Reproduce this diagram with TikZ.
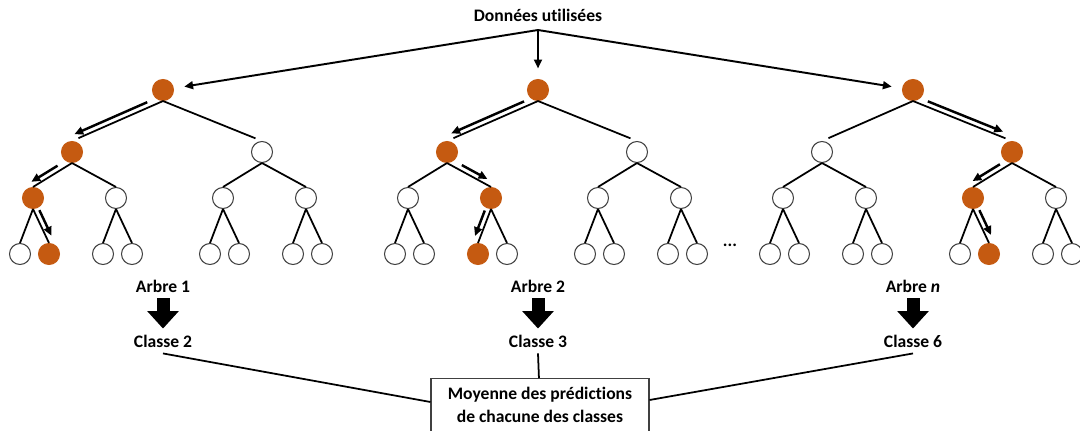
\documentclass[tikz,border=0pt]{standalone}
\usepackage{fontspec}
\setmainfont{Carlito}[Ligatures=NoCommon]
\usetikzlibrary{arrows.meta,calc}

\definecolor{pathorange}{RGB}{197,90,17}
\definecolor{rimgray}{RGB}{64,64,64}

\tikzset{
  leaf/.style={circle, draw=rimgray, line width=0.6pt, fill=white, minimum size=0.42cm, inner sep=0pt},
  on/.style={fill=pathorange, draw=pathorange},
  1r/.style=on, 1r0/.style=on, 1r00/.style=on, 1r001/.style=on,
  2r/.style=on, 2r0/.style=on, 2r01/.style=on, 2r010/.style=on,
  3r/.style=on, 3r1/.style=on, 3r10/.style=on, 3r101/.style=on,
  branch/.style={line width=1pt},
  feed/.style={line width=1.1pt, -{Triangle[length=5pt,width=4.5pt]}, shorten >=6pt},
  flow/.style={line width=1.4pt, -{Triangle[length=5pt,width=4.5pt]}},
  block/.style={line width=7.4pt, -{Triangle[length=10pt,width=17.5pt]}},
  meanbox/.style={draw=rimgray, line width=0.6pt, align=center, minimum width=4.36cm, inner ysep=5pt}
}

\begin{document}
\begin{tikzpicture}[x=0.02cm, y=-0.02cm, font=\bfseries\fontsize{10}{13}\selectfont]
\useasboundingbox (0,0) rectangle (1080,430);

\newcommand{\trees}{1/163/1/2, 2/538/2/3, 3/913/{\textit{n}}/6}
\newcommand{\spots}{r/0/90, r0/-91/152, r1/99/152, r00/-130/198, r01/-47/198, r10/60/198, r11/143/198,
  r000/-143/254, r001/-114/254, r010/-60/254, r011/-31/254, r100/47/254, r101/76/254, r110/130/254, r111/159/254}
\newcommand{\links}{r0/r00, r0/r01, r1/r10, r1/r11, r00/r000, r00/r001, r01/r010, r01/r011,
  r10/r100, r10/r101, r11/r110, r11/r111}
\newcommand{\flows}{1/r/r0/-90/0.15/0.95, 1/r0/r00/-90/0.3/0.97, 1/r00/r001/90/0.1/0.85,
  2/r/r0/-90/0.13/0.93, 2/r0/r01/90/0.28/0.86, 2/r01/r010/-90/0.1/0.85,
  3/r/r1/90/0.13/0.89, 3/r1/r10/-90/0.24/0.94, 3/r10/r101/90/0.1/0.83}

\node (data) at (538,15) {Données utilisées};
\coordinate (split) at (538,30);

\foreach \t / \cx / \n / \c in \trees {
  \foreach \s / \dx / \y in \spots
    \node[leaf, \t\s/.try] (\t\s) at (\cx+\dx,\y) {};
  \draw[branch, shorten >=4pt] (\t r.south) -- (\t r0.north);
  \draw[branch, shorten >=4pt] (\t r.south) -- (\t r1.north);
  \foreach \p / \q in \links
    \draw[branch] (\t\p.south) -- (\t\q.north);
  \draw[feed] (split) -- (\t r);
  \node (arbre\t) at (\cx,286) {Arbre \n};
  \node (classe\t) at (\cx,341) {Classe \c};
  \draw[block] (arbre\t) -- (classe\t);
}

\foreach \t / \a / \b / \side / \from / \to in \flows
  \draw[flow] ($(\t\a.south)!\from!(\t\b.north)!3pt!\side:(\t\b.north)$)
    -- ($(\t\a.south)!\to!(\t\b.north)!3pt!\side:(\t\b.north)$);

\node at (730,245) {...};

\node[meanbox, anchor=north] (mean) at (540,378) {Moyenne des prédictions\\de chacune des classes};
\draw[branch] (classe1.south) -- ($(mean.north west)+(0,24)$);
\draw[branch] (classe2.south) -- (mean);
\draw[branch] (classe3.south) -- ($(mean.north east)+(0,22)$);
\end{tikzpicture}
\end{document}
